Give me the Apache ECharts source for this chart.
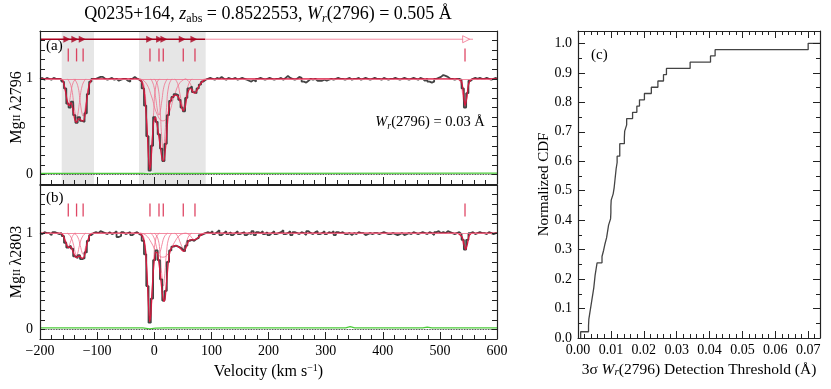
<!DOCTYPE html>
<html>
<head>
<meta charset="utf-8">
<script src="https://cdn.jsdelivr.net/npm/echarts@6/dist/echarts.min.js"></script>
<style>html,body{margin:0;padding:0;background:#fff}#main{width:831px;height:389px}</style>
</head>
<body>
<div id="main"></div>
<script>
  // spectra sampled every 4 km/s from -200 to 600
  const V0 = -200, DV = 4;
  const fluxA = [
    1.00, 1.01, 0.99, 1.01, 1.00, 0.99, 1.01, 1.00, 1.00, 1.00,
    0.97, 0.90, 0.74, 0.70, 0.76, 0.62, 0.54, 0.60, 0.56, 0.55, 0.64, 0.84, 0.97, 1.00,
    1.00, 1.01, 1.02, 1.02, 1.00, 0.99, 1.00, 1.01, 0.99, 1.00, 0.98, 0.99, 1.00, 1.00, 0.98, 0.97, 1.00, 1.02, 1.00, 0.99,
    0.97, 0.90, 0.72, 0.40, 0.04, 0.30, 0.60, 0.55, 0.42, 0.27, 0.14, 0.32, 0.62, 0.77, 0.81,
    0.84, 0.83, 0.78, 0.70, 0.66, 0.80, 0.90, 0.92, 0.86, 0.85, 0.90, 0.94, 0.97, 0.99, 1.00,
    1.01, 1.00, 0.99, 1.01, 1.00, 1.02, 1.00, 0.99, 1.01, 1.00,
    1.00, 1.01, 0.99, 1.00, 1.01, 1.00, 0.99, 0.98, 0.97, 0.99,
    0.97, 1.00, 1.01, 1.00, 0.99, 1.00, 1.01, 1.00, 0.99, 1.00,
    1.00, 1.01, 0.99, 1.01, 1.03, 1.01, 1.00, 0.99, 1.00, 1.02,
    1.01, 0.97, 0.96, 0.98, 1.00, 0.99, 1.00, 0.98, 0.98, 0.98,
    0.99, 0.98, 0.99, 1.00, 0.99, 1.00, 1.01, 1.00, 1.00, 0.99,
    1.00, 1.01, 0.99, 1.00, 1.00, 1.01, 0.99, 1.00, 1.01, 1.00,
    0.99, 1.00, 1.01, 1.00, 1.00, 0.99, 1.01, 1.00, 0.99, 1.00,
    1.00, 1.01, 1.00, 0.99, 1.00, 1.01, 1.00, 0.99, 1.00, 1.01,
    1.00, 0.99, 1.01, 1.00, 0.98, 1.00, 0.97, 0.96, 0.97, 1.00,
    1.01, 1.02, 1.04, 1.03, 1.02, 1.00, 1.00, 0.99, 1.00, 1.00,
    0.99, 0.90, 0.70, 0.85, 0.98, 1.00, 1.01, 1.00, 1.01, 1.00,
    1.00, 1.01, 1.00, 0.99, 1.00, 1.01, 1.00
  ];
  const fluxB = [
    1.00, 0.99, 1.01, 1.00, 1.00, 0.98, 1.01, 1.00, 0.99, 1.00,
    0.97, 0.90, 0.85, 0.87, 0.84, 0.76, 0.74, 0.77, 0.73, 0.74, 0.80, 0.92, 0.98, 1.00,
    1.01, 1.00, 1.02, 1.01, 1.00, 0.99, 1.01, 0.99, 1.00, 1.02, 0.96, 0.97, 1.01, 0.99, 1.00, 1.01, 0.98, 1.00, 1.01, 0.99,
    0.98, 0.92, 0.78, 0.45, 0.07, 0.32, 0.72, 0.82, 0.72, 0.52, 0.30, 0.40, 0.70, 0.82, 0.86,
    0.87, 0.86, 0.85, 0.83, 0.81, 0.87, 0.92, 0.93, 0.92, 0.94, 0.95, 0.98, 0.99, 1.00, 1.01,
    1.00, 1.02, 0.99, 1.01, 1.03, 0.98, 1.00, 1.02, 0.99, 1.01,
    0.98, 1.00, 1.02, 0.99, 1.00, 1.01, 0.98, 1.00, 0.99, 1.02,
    0.98, 1.01, 1.00, 1.02, 0.99, 1.01, 0.98, 1.00, 1.02, 0.99,
    1.00, 1.01, 1.03, 0.99, 1.00, 1.02, 0.98, 1.01, 1.00, 0.99,
    1.01, 1.00, 0.98, 1.02, 1.00, 0.99, 1.01, 1.02, 0.99, 1.00,
    1.02, 0.99, 1.01, 1.00, 1.02, 0.98, 1.01, 1.00, 1.01, 0.99,
    0.99, 1.00, 0.98, 1.00, 0.99, 1.01, 1.00, 1.00, 0.98, 0.99,
    1.00, 0.99, 1.00, 1.00, 0.99, 1.00, 1.01, 1.00, 0.99, 0.99,
    1.00, 0.99, 0.98, 0.99, 1.00, 0.98, 0.99, 1.00, 0.99, 1.01,
    1.00, 0.99, 1.00, 1.01, 1.00, 0.99, 1.01, 1.00, 0.98, 1.01,
    1.02, 1.00, 1.01, 1.00, 1.02, 1.01, 1.00, 0.99, 1.00, 1.01,
    0.99, 0.93, 0.83, 0.93, 1.00, 1.01, 0.99, 1.00, 1.01, 1.00,
    1.00, 0.99, 1.01, 1.00, 0.99, 1.00, 1.00
  ];

  // fitted model [v, flux]
  const modelA = [[-200,1],[-164,1],[-160,0.98],[-156,0.89],[-152,0.76],[-149,0.72],[-146,0.75],[-143,0.70],[-139,0.57],[-136,0.545],[-133,0.58],[-130,0.58],[-127,0.56],[-124,0.56],[-121,0.63],[-118,0.78],[-114,0.93],[-110,0.99],[-106,1],
    [-28,1],[-22,0.97],[-18,0.88],[-15,0.70],[-12,0.42],[-10,0.18],[-8,0.05],[-6,0.12],[-4,0.32],[-1,0.55],[2,0.60],[5,0.52],[8,0.40],[11,0.27],[14,0.16],[16,0.14],[18,0.18],[21,0.36],[24,0.60],[27,0.74],[31,0.80],[36,0.83],[41,0.82],[45,0.77],[48,0.70],[51,0.665],[54,0.70],[57,0.81],[61,0.89],[64,0.90],[68,0.86],[71,0.85],[74,0.87],[78,0.92],[84,0.97],[90,0.995],[96,1],
    [530,1],[538,0.97],[541,0.86],[544,0.72],[547,0.80],[550,0.94],[555,0.995],[560,1],[600,1]];
  const modelB = [[-200,1],[-164,1],[-160,0.98],[-156,0.92],[-152,0.86],[-149,0.85],[-146,0.86],[-143,0.82],[-139,0.76],[-136,0.745],[-133,0.76],[-130,0.76],[-127,0.74],[-124,0.74],[-121,0.79],[-118,0.88],[-114,0.96],[-110,0.995],[-106,1],
    [-28,1],[-22,0.98],[-18,0.92],[-15,0.80],[-12,0.50],[-10,0.25],[-8,0.08],[-6,0.16],[-4,0.38],[-1,0.65],[2,0.80],[5,0.80],[8,0.70],[11,0.55],[14,0.38],[17,0.29],[19,0.32],[22,0.52],[25,0.72],[28,0.82],[32,0.86],[37,0.87],[42,0.86],[46,0.84],[49,0.82],[52,0.81],[55,0.84],[58,0.89],[62,0.93],[66,0.93],[70,0.93],[74,0.94],[78,0.96],[84,0.99],[90,1],
    [530,1],[539,0.96],[542,0.89],[545,0.83],[548,0.88],[551,0.97],[556,1],[600,1]];

  // individual cloud components [v, flux]
  const compsA = [
    [[-164,1],[-159,0.96],[-155,0.85],[-152.5,0.76],[-150.5,0.73],[-148.5,0.76],[-146,0.85],[-142,0.96],[-137,1]],
    [[-152,1],[-146,0.93],[-141,0.75],[-138,0.62],[-136,0.59],[-134,0.62],[-131,0.75],[-126,0.93],[-120,1]],
    [[-140,1],[-134,0.93],[-129.5,0.75],[-126.5,0.64],[-124.5,0.61],[-122.5,0.64],[-119.5,0.75],[-114.5,0.93],[-109,1]],
    [[-24,1],[-18,0.93],[-14,0.65],[-11,0.28],[-9,0.08],[-7.5,0.04],[-6,0.08],[-4,0.28],[-1,0.65],[3,0.93],[9,1]],
    [[-6,1],[-1,0.93],[3,0.78],[6,0.66],[8.3,0.62],[10.5,0.66],[13.5,0.78],[17.5,0.93],[23,1]],
    [[0,1],[6,0.93],[10,0.70],[13,0.40],[15.8,0.25],[18.5,0.40],[21.5,0.70],[25.5,0.93],[31,1]],
    [[-25,1],[-15,0.96],[-5,0.82],[5,0.63],[15,0.56],[25,0.63],[35,0.82],[45,0.96],[55,1]],
    [[36,1],[41,0.95],[45,0.84],[48.5,0.74],[50.8,0.71],[53,0.74],[56.5,0.84],[60.5,0.95],[66,1]],
    [[55,1],[61,0.97],[66,0.91],[69,0.88],[71.3,0.87],[73.5,0.88],[76.5,0.91],[81.5,0.97],[88,1]],
    [[533,1],[537,0.95],[540,0.83],[542.3,0.74],[544,0.71],[545.7,0.74],[548,0.83],[551,0.95],[555,1]]
  ];
  const compsB = [
    [[-164,1],[-159,0.98],[-155,0.92],[-152.5,0.88],[-150.5,0.86],[-148.5,0.88],[-146,0.92],[-142,0.98],[-137,1]],
    [[-152,1],[-146,0.96],[-141,0.87],[-138,0.79],[-136,0.77],[-134,0.79],[-131,0.87],[-126,0.96],[-120,1]],
    [[-140,1],[-134,0.96],[-129.5,0.87],[-126.5,0.80],[-124.5,0.78],[-122.5,0.80],[-119.5,0.87],[-114.5,0.96],[-109,1]],
    [[-24,1],[-18,0.95],[-14,0.70],[-11,0.33],[-9,0.12],[-7.5,0.08],[-6,0.12],[-4,0.33],[-1,0.70],[3,0.95],[9,1]],
    [[-6,1],[-1,0.96],[3,0.88],[6,0.81],[8.3,0.79],[10.5,0.81],[13.5,0.88],[17.5,0.96],[23,1]],
    [[0,1],[6,0.95],[10,0.80],[13,0.58],[15.8,0.45],[18.5,0.58],[21.5,0.80],[25.5,0.95],[31,1]],
    [[-25,1],[-15,0.98],[-5,0.90],[5,0.79],[15,0.75],[25,0.79],[35,0.90],[45,0.98],[55,1]],
    [[36,1],[41,0.97],[45,0.91],[48.5,0.86],[50.8,0.84],[53,0.86],[56.5,0.91],[60.5,0.97],[66,1]],
    [[55,1],[61,0.985],[66,0.95],[69,0.935],[71.3,0.93],[73.5,0.935],[76.5,0.95],[81.5,0.985],[88,1]],
    [[533,1],[537,0.97],[540,0.90],[542.3,0.86],[544,0.84],[545.7,0.86],[548,0.90],[551,0.97],[555,1]]
  ];

  // error spectra [v, sigma]
  const errA = [[-200,0.012],[-20,0.012],[-8,0.007],[2,0.011],[100,0.012],[600,0.013]];
  const errB = [[-200,0.015],[-20,0.015],[-8,0.005],[2,0.012],[20,0.015],[335,0.015],[343,0.028],[351,0.016],[470,0.015],[478,0.024],[486,0.015],[600,0.016]];

  const compVel = [-150.5, -136, -124.5, -7.5, 8.3, 15.8, 50.8, 71.3, 544];
  const arrowVel = [-153, -139, -126, -8, 9.4, 17, 49, 69.5];
  const shadeRanges = [[-162, -105.5], [-26.7, 90]];

  // 3-sigma detection thresholds (Å), sorted
  const thresholds = [0.0008,0.0032,0.0033,0.0036,0.0039,0.0042,0.0045,0.0048,0.0050,0.0052,
    0.0055,0.0058,0.0073,0.0078,0.0082,0.0087,0.0090,0.0093,0.0099,0.0100,
    0.0100,0.0101,0.0107,0.0110,0.0112,0.0114,0.0116,0.0119,0.0119,0.0127,
    0.0127,0.0141,0.0142,0.0148,0.0148,0.0166,0.0179,0.0187,0.0202,0.0223,
    0.0243,0.0260,0.0269,0.0341,0.0403,0.0417,0.0700];

  const SERIF = 'Liberation Serif';
  const RED = '#d7193f', PINK = '#f0708c', DARKRED = '#a8001e', GREY = '#444';
  const vel = fluxA.map((_, i) => V0 + i * DV);
  const pairs = (f) => f.map((y, i) => [vel[i], y]);

  const CDF_XMAX = 0.0736;
  const N = thresholds.length;
  const cdf = [];
  thresholds.forEach((x, i) => { cdf.push([x, i / N], [x, (i + 1) / N]); });
  cdf.push([CDF_XMAX, 1]);

  var chartDom = document.getElementById('main');
  var myChart = echarts.init(chartDom);
  var option;

  const txt = { fontFamily: SERIF, fontSize: 14, color: '#000' };
  const axLine = { onZero: false, lineStyle: { color: '#222', width: 1.2 } };
  const specLabel = (v) => Math.abs(v) < 1e-6 ? '0' : (Math.abs(v - 1) < 1e-6 ? '1' : '');
  const mgName = (w) => '{n|Mg}{s|II} {n|λ' + w + '}';
  const mgRich = {
    n: { fontFamily: SERIF, fontSize: 16, color: '#000' },
    s: { fontFamily: SERIF, fontSize: 11, color: '#000' }
  };

  function velX(grid, labels) {
    return {
      type: 'value', gridIndex: grid, min: -200, max: 600, interval: 100, z: 10,
      axisLine: axLine,
      axisTick: { inside: true, length: 7, lineStyle: { color: '#222' } },
      minorTick: { show: true, splitNumber: 5, length: 4, lineStyle: { color: '#222' } },
      splitLine: { show: false },
      axisLabel: labels ? Object.assign({ margin: 5, formatter: (v) => String(v).replace('-', '\u2212') }, txt) : { show: false },
      name: labels ? '{n|Velocity (km s}{sup|\u22121}{n|)}' : '',
      nameLocation: 'middle', nameGap: 24, nameMoveOverlap: false,
      nameTextStyle: { rich: {
        n: { fontFamily: SERIF, fontSize: 16, color: '#000' },
        sup: { fontFamily: SERIF, fontSize: 10, color: '#000', verticalAlign: 'top', lineHeight: 18 }
      } }
    };
  }
  function frame(grid, pos, isX) {
    const a = {
      type: 'value', gridIndex: grid, position: pos, z: 10,
      axisLine: axLine, axisTick: { show: false }, axisLabel: { show: false }, splitLine: { show: false }
    };
    if (isX) { a.min = -200; a.max = 600; } else { a.min = -0.1; a.max = 1.5; a.interval = 0.1;
      a.axisTick = { show: true, inside: true, length: 5, lineStyle: { color: '#222' } }; }
    return a;
  }
  function fluxY(grid, w) {
    return {
      type: 'value', gridIndex: grid, min: -0.1, max: 1.5, interval: 0.1, z: 10,
      axisLine: axLine,
      axisTick: { inside: true, length: 5, lineStyle: { color: '#222' } },
      splitLine: { show: false },
      axisLabel: Object.assign({ margin: 7, formatter: specLabel }, txt),
      name: mgName(w), nameLocation: 'middle', nameGap: 15, nameRotate: 90, nameMoveOverlap: false,
      nameTextStyle: { rich: mgRich }
    };
  }

  function panelSeries(xi, yi, flux, model, comps, err, withTop) {
    const s = [];
    s.push({
      type: 'line', xAxisIndex: xi, yAxisIndex: yi, data: err, symbol: 'none', z: 1,
      lineStyle: { color: '#4ccc3a', width: 1.2 },
      markLine: { silent: true, symbol: 'none', label: { show: false },
        data: [{ yAxis: 0, lineStyle: { type: 'dotted', color: '#000', width: 0.8 } },
               { yAxis: 1, lineStyle: { type: 'solid', color: PINK, width: 0.8 } }] },
      markArea: withTop ? { silent: true, itemStyle: { color: '#e6e6e6' },
        data: shadeRanges.map((r) => [{ xAxis: r[0] }, { xAxis: r[1] }]) } : undefined
    });
    comps.forEach((c) => s.push({
      type: 'line', xAxisIndex: xi, yAxisIndex: yi, data: c, symbol: 'none', smooth: true, z: 2,
      lineStyle: { color: PINK, width: 0.8 }
    }));
    s.push({
      type: 'line', xAxisIndex: xi, yAxisIndex: yi, data: pairs(flux), step: 'middle', symbol: 'none', z: 3,
      lineStyle: { color: GREY, width: 1.8 }
    });
    s.push({
      type: 'line', xAxisIndex: xi, yAxisIndex: yi, data: model, symbol: 'none', smooth: 0.2, z: 4,
      lineStyle: { color: RED, width: 1.3 }
    });
    s.push({
      type: 'scatter', xAxisIndex: xi, yAxisIndex: yi, data: compVel.map((v) => [v, withTop ? 1.25 : 1.24]),
      symbol: 'rect', symbolSize: [1.3, 13], z: 5, itemStyle: { color: RED }
    });
    if (withTop) {
      s.push({ type: 'line', xAxisIndex: xi, yAxisIndex: yi, data: [[-200, 1.414], [89, 1.414]], symbol: 'none', z: 5,
        lineStyle: { color: DARKRED, width: 1.4 } });
      s.push({ type: 'line', xAxisIndex: xi, yAxisIndex: yi, data: [[89, 1.414], [558, 1.414]], symbol: 'none', z: 5,
        lineStyle: { color: PINK, width: 0.8 } });
      s.push({ type: 'scatter', xAxisIndex: xi, yAxisIndex: yi, data: arrowVel.map((v) => [v, 1.414]), z: 6,
        symbol: 'triangle', symbolRotate: -90, symbolSize: 7, itemStyle: { color: DARKRED } });
      s.push({ type: 'scatter', xAxisIndex: xi, yAxisIndex: yi, data: [[546, 1.414]], z: 6,
        symbol: 'triangle', symbolRotate: -90, symbolSize: 7,
        itemStyle: { color: '#fff', borderColor: PINK, borderWidth: 1 } });
    }
    return s;
  }

  option = {
    animation: false,
    backgroundColor: '#fff',
    grid: [
      { left: 40, top: 31, width: 457, height: 153, outerBoundsMode: 'none' },
      { left: 40, top: 185, width: 457, height: 154, outerBoundsMode: 'none' },
      { left: 578, top: 31, width: 242, height: 307, outerBoundsMode: 'none' }
    ],
    xAxis: [
      velX(0, false), velX(1, true),
      frame(0, 'top', true), frame(1, 'top', true),
      {
        type: 'value', gridIndex: 2, min: 0, max: CDF_XMAX, interval: 0.01, z: 10,
        axisLine: axLine,
        axisTick: { inside: true, length: 7, lineStyle: { color: '#222' } },
        minorTick: { show: true, splitNumber: 5, length: 4, lineStyle: { color: '#222' } },
        splitLine: { show: false },
        axisLabel: Object.assign({ margin: 5, showMaxLabel: false,
          formatter: (v) => Math.abs(v * 100 - Math.round(v * 100)) < 1e-6 ? v.toFixed(2) : '' }, txt),
        name: '{n|3σ }{i|W}{s|r}{n|(2796) Detection Threshold (Å)}',
        nameLocation: 'middle', nameGap: 24, nameMoveOverlap: false,
        nameTextStyle: { rich: {
          n: { fontFamily: SERIF, fontSize: 15.5, color: '#000' },
          i: { fontFamily: SERIF, fontSize: 15.5, fontStyle: 'italic', color: '#000' },
          s: { fontFamily: SERIF, fontSize: 11, fontStyle: 'italic', color: '#000', verticalAlign: 'bottom', lineHeight: 13 }
        } }
      },
      {
        type: 'value', gridIndex: 2, position: 'top', min: 0, max: CDF_XMAX, interval: 0.01, z: 10,
        axisLine: axLine,
        axisTick: { inside: true, length: 7, lineStyle: { color: '#222' } },
        minorTick: { show: true, splitNumber: 5, length: 4, lineStyle: { color: '#222' } },
        splitLine: { show: false }, axisLabel: { show: false }
      }
    ],
    yAxis: [
      fluxY(0, 2796), fluxY(1, 2803),
      frame(0, 'right', false), frame(1, 'right', false),
      {
        type: 'value', gridIndex: 2, min: 0, max: 1.042, interval: 0.1, z: 10,
        axisLine: axLine,
        axisTick: { inside: true, length: 7, lineStyle: { color: '#222' } },
        minorTick: { show: true, splitNumber: 2, length: 4, lineStyle: { color: '#222' } },
        splitLine: { show: false },
        axisLabel: Object.assign({ margin: 6, showMaxLabel: false,
          formatter: (v) => Math.abs(v * 10 - Math.round(v * 10)) < 1e-6 ? v.toFixed(1) : '' }, txt),
        name: 'Normalized CDF', nameLocation: 'middle', nameGap: 26, nameMoveOverlap: false,
        nameTextStyle: { fontFamily: SERIF, fontSize: 15, color: '#000' }
      },
      {
        type: 'value', gridIndex: 2, position: 'right', min: 0, max: 1.042, interval: 0.1, z: 10,
        axisLine: axLine,
        axisTick: { inside: true, length: 7, lineStyle: { color: '#222' } },
        minorTick: { show: true, splitNumber: 2, length: 4, lineStyle: { color: '#222' } },
        splitLine: { show: false }, axisLabel: { show: false }
      }
    ],
    graphic: [
      { type: 'text', x: 268, y: 14, style: {
        text: '{n|Q0235+164, }{i|z}{s|abs}{n| = 0.8522553, }{i|W}{si|r}{n|(2796) = 0.505 Å}',
        textAlign: 'center', textVerticalAlign: 'middle',
        rich: {
          n: { fontFamily: SERIF, fontSize: 18, lineHeight: 22, fill: '#000' },
          i: { fontFamily: SERIF, fontSize: 18, fontStyle: 'italic', lineHeight: 22, fill: '#000' },
          s: { fontFamily: SERIF, fontSize: 12, lineHeight: 13, verticalAlign: 'bottom', fill: '#000' },
          si: { fontFamily: SERIF, fontSize: 12, fontStyle: 'italic', lineHeight: 13, verticalAlign: 'bottom', fill: '#000' }
        } } },
      { type: 'text', x: 430, y: 122, z: 20, style: {
        text: '{i|W}{s|r}{n|(2796) = 0.03 Å}', textAlign: 'center', textVerticalAlign: 'middle',
        rich: {
          n: { fontFamily: SERIF, fontSize: 14.5, lineHeight: 18, fill: '#000' },
          i: { fontFamily: SERIF, fontSize: 14.5, fontStyle: 'italic', lineHeight: 18, fill: '#000' },
          s: { fontFamily: SERIF, fontSize: 10, fontStyle: 'italic', lineHeight: 11, verticalAlign: 'bottom', fill: '#000' }
        } } },
      { type: 'text', x: 46, y: 46, z: 20, style: { text: '(a)', font: '15px ' + SERIF, fill: '#000', textVerticalAlign: 'middle' } },
      { type: 'text', x: 46, y: 198, z: 20, style: { text: '(b)', font: '15px ' + SERIF, fill: '#000', textVerticalAlign: 'middle' } },
      { type: 'text', x: 591, y: 55, z: 20, style: { text: '(c)', font: '15px ' + SERIF, fill: '#000', textVerticalAlign: 'middle' } }
    ],
    series: [].concat(
      panelSeries(0, 0, fluxA, modelA, compsA, errA, true),
      panelSeries(1, 1, fluxB, modelB, compsB, errB, false),
      [{ type: 'line', xAxisIndex: 4, yAxisIndex: 4, data: cdf, symbol: 'none',
         lineStyle: { color: GREY, width: 1.3 } }]
    )
  };

  option && myChart.setOption(option);

  window.onresize = function () {
    myChart.resize();
  };
</script>
</body>
</html>
